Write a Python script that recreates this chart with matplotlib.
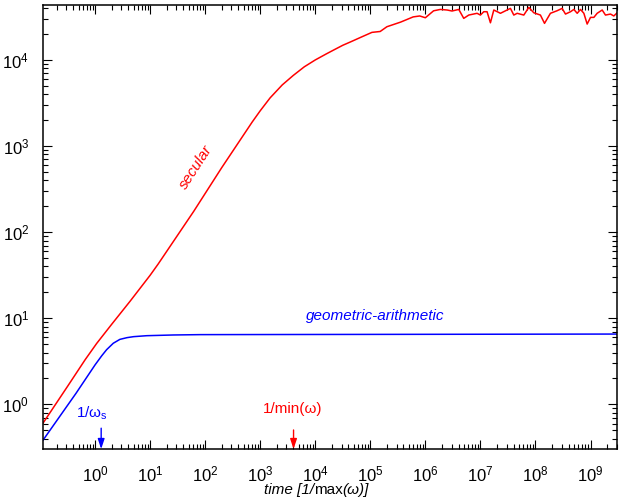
import matplotlib
matplotlib.use("Agg")
import matplotlib.pyplot as plt
from matplotlib.offsetbox import TextArea, HPacker, AnchoredOffsetbox
import numpy as np

plt.rcParams['font.family'] = ['Liberation Sans', 'DejaVu Sans']
plt.rcParams['mathtext.fontset'] = 'custom'
plt.rcParams['mathtext.rm'] = 'Liberation Sans'
plt.rcParams['mathtext.it'] = 'Liberation Sans:italic'
plt.rcParams['mathtext.bf'] = 'Liberation Sans:bold'

# secular curve (time, amplitude)
secular_t = [0.1135, 0.316, 0.661, 1.07, 2.0, 4.33, 10, 14, 61.7, 200, 716, 1000,
             1514, 2512, 3981, 6310, 1e4, 1.585e4, 2.14e4, 3.16e4, 4.37e4, 7.08e4,
             1.07e5, 1.51e5, 2.0e5, 3.55e5, 6.0e5, 7.9e5,
             1.0e6, 1.41e6, 1.87e6, 2.48e6, 3.05e6, 4.04e6, 4.98e6, 6.14e6, 8.69e6,
             1.0e7, 1.15e7, 1.32e7, 1.52e7, 1.75e7, 2.31e7, 3.05e7, 3.51e7, 4.04e7,
             4.65e7, 6.14e7, 7.57e7, 9.33e7, 1.23e8, 1.46e8, 1.87e8, 2.48e8, 3.05e8,
             3.51e8, 4.33e8, 4.98e8, 5.73e8, 6.58e8, 7.57e8, 8.69e8, 1.0e9, 1.15e9,
             1.32e9, 1.63e9, 1.87e9, 2.31e9, 2.65e9, 3.05e9]
secular_y = [0.607, 1.62, 3.31, 5.11, 8.51, 15.8, 31.6, 42.7, 174, 562, 1905, 2570,
             3631, 5129, 6607, 8318, 1e4, 1.175e4, 1.30e4, 1.48e4, 1.62e4, 1.86e4,
             2.09e4, 2.14e4, 2.43e4, 2.75e4, 3.16e4, 3.24e4,
             3.09e4, 3.72e4, 3.86e4, 3.80e4, 3.70e4, 3.86e4, 3.04e4, 3.32e4, 3.48e4,
             3.32e4, 3.63e4, 3.63e4, 2.70e4, 3.80e4, 3.48e4, 3.80e4, 3.97e4, 3.32e4,
             3.48e4, 3.32e4, 4.08e4, 3.53e4, 3.32e4, 2.66e4, 3.48e4, 3.73e4, 3.97e4,
             3.41e4, 3.63e4, 3.86e4, 3.48e4, 3.86e4, 3.48e4, 2.61e4, 3.12e4, 3.12e4,
             3.48e4, 3.80e4, 3.32e4, 3.41e4, 3.24e4, 3.53e4]

# geometric-arithmetic curve
geo_t = [0.1135, 0.452, 1.0, 1.32, 1.62, 2.14, 2.82, 3.80, 5.01, 8.71, 26.3, 81.3, 3.05e9]
geo_y = [0.385, 1.35, 2.88, 3.67, 4.32, 5.13, 5.69, 5.96, 6.12, 6.28, 6.40, 6.46, 6.56]

x_major = [1e0, 1e1, 1e2, 1e3, 1e4, 1e5, 1e6, 1e7, 1e8, 1e9]
y_major = [1e0, 1e1, 1e2, 1e3, 1e4]

# arrow markers
omega_s_t = 1.29
min_omega_t = 4030

fig = plt.figure(figsize=(6.33, 5.04), dpi=100)
ax = fig.add_axes([0.068, 0.109, 0.907, 0.881])

ax.plot(secular_t, secular_y, color='red', lw=1.1)
ax.plot(geo_t, geo_y, color='blue', lw=1.1)

ax.set_xscale('log')
ax.set_yscale('log')
ax.set_xlim(0.1134, 3.05e9)
ax.set_ylim(0.303, 4.34e4)

ax.set_xticks(x_major)
ax.set_yticks(y_major)
ax.xaxis.set_minor_locator(matplotlib.ticker.LogLocator(base=10, subs=np.arange(2, 10), numticks=20))
ax.yaxis.set_minor_locator(matplotlib.ticker.LogLocator(base=10, subs=np.arange(2, 10), numticks=20))
ax.xaxis.set_minor_formatter(matplotlib.ticker.NullFormatter())
ax.yaxis.set_minor_formatter(matplotlib.ticker.NullFormatter())

ax.tick_params(which='both', direction='in', top=True, right=True, width=0.8, labelsize=12)
ax.tick_params(which='major', length=6.5)
ax.tick_params(which='minor', length=3.5)
ax.tick_params(axis='x', which='major', pad=11)
ax.tick_params(axis='y', which='major', pad=10)
for s in ax.spines.values():
    s.set_linewidth(1.1)

# x label: italic with upright "max"
parts = [TextArea('time [1/', textprops=dict(style='italic', fontsize=11)),
         TextArea('max', textprops=dict(fontsize=11)),
         TextArea('(ω)]', textprops=dict(style='italic', fontsize=11))]
xlab = HPacker(children=parts, align='baseline', pad=0, sep=0)
fig.add_artist(AnchoredOffsetbox(loc='center', child=xlab, frameon=False, pad=0, borderpad=0,
                                 bbox_to_anchor=(0.5, 0.028), bbox_transform=fig.transFigure))

ax.text(68, 565, 'secular', color='red', fontsize=11, style='italic',
        rotation=57, ha='center', va='center')
ax.text(1.23e5, 10.6, 'geometric-arithmetic', color='blue', fontsize=11,
        style='italic', ha='center', va='center')

ax.text(0.89, 0.081, r'1/ω$_\mathrm{s}$', color='blue', fontsize=11,
        ha='center', va='center', transform=ax.get_xaxis_transform())
ax.annotate('', xy=(omega_s_t, 0), xytext=(omega_s_t, 0.047),
            xycoords=('data', 'axes fraction'), textcoords=('data', 'axes fraction'),
            arrowprops=dict(arrowstyle='-|>,head_length=0.6,head_width=0.2',
                            color='blue', lw=1, shrinkA=0, shrinkB=0))
ax.text(3900, 0.09, '1/min(ω)', color='red', fontsize=11,
        ha='center', va='center', transform=ax.get_xaxis_transform())
ax.annotate('', xy=(min_omega_t, 0), xytext=(min_omega_t, 0.043),
            xycoords=('data', 'axes fraction'), textcoords=('data', 'axes fraction'),
            arrowprops=dict(arrowstyle='-|>,head_length=0.6,head_width=0.2',
                            color='red', lw=1, shrinkA=0, shrinkB=0))

fig.savefig('out.png', dpi=100)
